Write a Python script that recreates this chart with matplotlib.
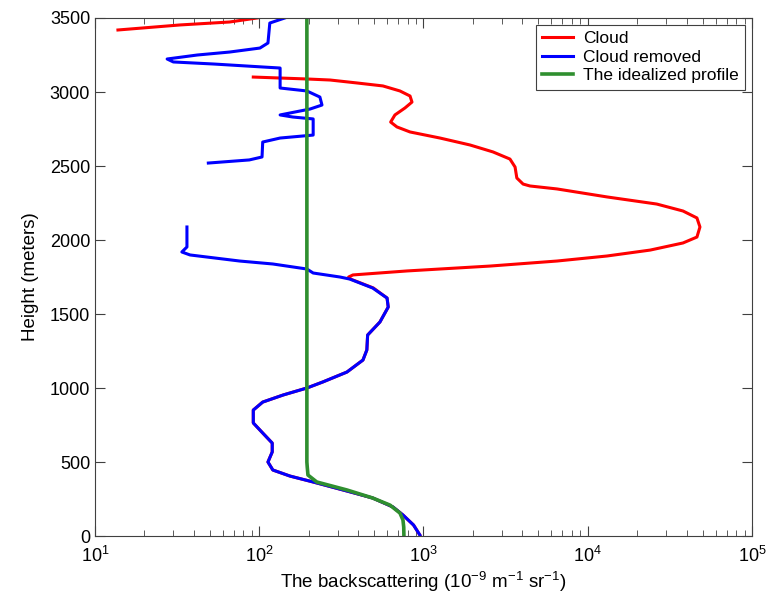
import numpy as np
import matplotlib
matplotlib.use('Agg')
from matplotlib import pyplot as plt

plt.rcParams['font.family'] = ['Liberation Sans', 'DejaVu Sans']
plt.rcParams['mathtext.fontset'] = 'custom'
plt.rcParams['mathtext.rm'] = 'Liberation Sans'
plt.rcParams['mathtext.it'] = 'Liberation Sans:italic'

# Cloud removed profile (two pieces, gap between ~2520 m and ~2090 m)
blue_top_h = [3500, 3466, 3331, 3297, 3270, 3250, 3223, 3203, 3189, 3169, 3162, 3027, 3007,
              2966, 2912, 2885, 2845, 2831, 2818, 2709, 2689, 2662, 2561, 2541, 2520]
blue_top_x = [143, 116, 113, 101, 66, 42, 27.5, 30, 53, 105, 134, 134, 195,
              234, 241, 204, 134, 160, 213, 213, 134, 105, 104, 87, 49]

blue_low_h = [2088, 1953, 1919, 1899, 1858, 1838, 1804, 1777, 1750, 1736, 1676, 1608, 1547,
              1446, 1358, 1257, 1189, 1108, 1041, 1000, 953, 905, 851, 764, 696, 628, 568,
              500, 446, 405, 365, 304, 257, 196, 142, 74, 7]
blue_low_x = [36.3, 36.3, 33.8, 37.9, 76, 121, 195, 213, 310, 356, 490, 600, 610,
              543, 457, 452, 428, 342, 244, 195, 140, 105, 92, 92, 105, 120, 120,
              113, 121, 154, 213, 342, 490, 652, 750, 870, 950]

# Cloud profile
red_top_h = [3419, 3453, 3473, 3500]
red_top_x = [13.8, 32.9, 66, 97]

red_h = [3101, 3088, 3081, 3061, 3041, 3007, 2973, 2932, 2892, 2845, 2797, 2764, 2730,
         2689, 2642, 2595, 2547, 2493, 2419, 2378, 2365, 2345, 2291, 2243, 2196, 2149,
         2088, 2020, 1980, 1932, 1892, 1858, 1824, 1791, 1764, 1750, 1736,
         1676, 1608, 1547, 1446, 1358, 1257, 1189, 1108, 1041, 1000, 953, 905, 851, 764,
         696, 628, 568, 500, 446, 405, 365, 304, 257, 196, 142, 74, 7]
red_x = [92, 195, 270, 394, 566, 719, 828, 851, 771, 670, 631, 689, 828,
         1260, 1920, 2650, 3360, 3610, 3700, 4040, 4450, 6500, 13100, 26300, 38000, 46200,
         48200, 46200, 38000, 24000, 13100, 6500, 2540, 795, 372, 350, 360,
         495, 600, 610, 543, 457, 452, 428, 342, 244, 195, 140, 105, 92, 92,
         105, 120, 120, 113, 121, 154, 213, 342, 490, 652, 750, 870, 950]

# Idealized profile
green_h = [3500, 500, 466, 412, 365, 311, 257, 209, 155, 108, 60, 0]
green_x = [195, 195, 196, 198, 224, 342, 490, 625, 719, 750, 758, 760]

fig = plt.figure(figsize=(7.74, 6.02), dpi=100)
ax = fig.add_axes([0.1227, 0.1096, 0.8489, 0.8605])

ax.plot(red_x, red_h, color='#ff0000', lw=2.2, label='Cloud')
ax.plot(red_top_x, red_top_h, color='#ff0000', lw=2.2)
ax.plot(blue_top_x, blue_top_h, color='#0000ff', lw=2.2, label='Cloud removed')
ax.plot(blue_low_x, blue_low_h, color='#0000ff', lw=2.2)
ax.plot(green_x, green_h, color='#2f8f2f', lw=2.6, label='The idealized profile')

ax.set_xscale('log')
ax.set_xlim(10, 1e5)
ax.set_ylim(0, 3500)
ax.set_yticks(np.arange(0, 3501, 500))
for s in ax.spines.values():
    s.set_color('#404040')
ax.tick_params(which='both', direction='in', top=True, right=True, labelsize=13,
               color='#404040')
ax.tick_params(which='major', length=7)
ax.tick_params(which='minor', length=4)
ax.tick_params(axis='x', which='both', pad=7)
ax.set_xlabel('The backscattering (10$^{-9}$ m$^{-1}$ sr$^{-1}$)', fontsize=13.5, labelpad=3)
ax.set_ylabel('Height (meters)', fontsize=13.5, labelpad=8)

leg = ax.legend(loc='upper right', fontsize=12.5, fancybox=False, framealpha=1,
                edgecolor='#404040', borderpad=0.35, handlelength=1.75,
                handletextpad=0.6, labelspacing=0.2, borderaxespad=0,
                bbox_to_anchor=(0.9893, 0.9865))
leg.get_frame().set_linewidth(0.8)

fig.savefig('out.png', dpi=100)
